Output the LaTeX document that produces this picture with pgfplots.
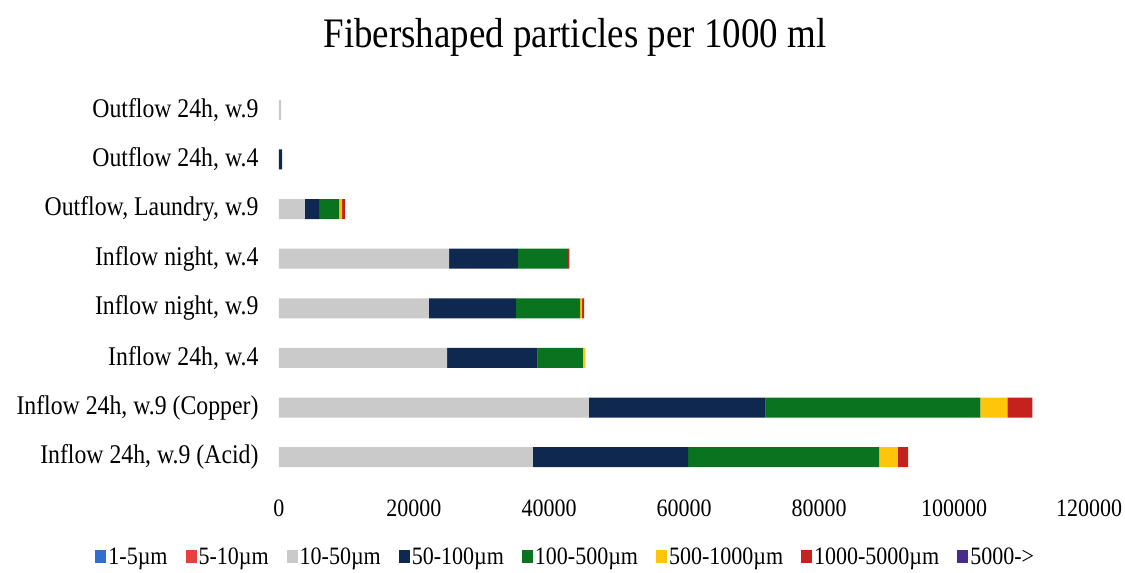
\documentclass[border=0pt]{standalone}
\usepackage{fontspec}
\setmainfont{Liberation Serif}[FakeStretch=0.88]
\usepackage{pgfplots}
\pgfplotsset{compat=1.18}
\definecolor{cBlue}{HTML}{2F6FD0}
\definecolor{cRedA}{HTML}{E8403C}
\definecolor{cGray}{HTML}{CACACA}
\definecolor{cNavy}{HTML}{0F2850}
\definecolor{cGreen}{HTML}{0A7320}
\definecolor{cYellow}{HTML}{FFC50A}
\definecolor{cRedB}{HTML}{C4221C}
\definecolor{cPurple}{HTML}{4A2A8A}
\begin{document}
\begin{tikzpicture}
\path[use as bounding box] (0,0) rectangle (1125pt,573pt);
\node[font=\fontsize{42}{48}\selectfont] at (575pt,536pt) {Fibershaped particles per 1000 ml};
\begin{axis}[
  at={(279pt,91pt)}, anchor=south west,
  scale only axis, width=810pt, height=397pt,
  xbar stacked, bar width=20pt,
  xmin=0, xmax=120000, ymin=-0.5, ymax=7.5,
  axis line style={draw=none},
  major tick length=0pt,
  xtick={0,20000,...,120000},
  scaled x ticks=false,
  xticklabel style={font=\fontsize{25}{30}\selectfont, yshift=-14pt},
  xticklabel={\pgfmathprintnumber[fixed,1000 sep={},assume math mode=true]{\tick}},
  ytick={0,...,7},
  yticklabels={{Inflow 24h, w.9 (Acid)},{Inflow 24h, w.9 (Copper)},{Inflow 24h, w.4},{Inflow night, w.9},{Inflow night, w.4},{Outflow, Laundry, w.9},{Outflow 24h, w.4},{Outflow 24h, w.9}},
  yticklabel style={font=\fontsize{27}{32}\selectfont, xshift=-17pt},
  legend columns=8,
  legend style={at={(0.354,-0.19)}, anchor=center, draw=none, font=\fontsize{25}{30}\selectfont,
    /tikz/every even column/.append style={column sep=16pt}},
  legend image code/.code={\fill[#1] (0pt,-6pt) rectangle (11pt,7pt);},
  every axis plot/.append style={draw=none},
]
\addplot[fill=cBlue] coordinates {(0,0) (0,1) (0,2) (0,3) (0,4) (0,5) (0,6) (0,7)};
\addplot[fill=cRedA] coordinates {(0,0) (0,1) (0,2) (0,3) (0,4) (0,5) (0,6) (0,7)};
\addplot[fill=cGray] coordinates {(37600,0) (45900,1) (24900,2) (22200,3) (25200,4) (3850,5) (0,6) (300,7)};
\addplot[fill=cNavy] coordinates {(23000,0) (26200,1) (13400,2) (12900,3) (10200,4) (2100,5) (450,6) (0,7)};
\addplot[fill=cGreen] coordinates {(28300,0) (31800,1) (6700,2) (9500,3) (7400,4) (2950,5) (0,6) (0,7)};
\addplot[fill=cYellow] coordinates {(2800,0) (4000,1) (400,2) (300,3) (0,4) (450,5) (0,6) (0,7)};
\addplot[fill=cRedB] coordinates {(1500,0) (3700,1) (0,2) (300,3) (200,4) (450,5) (0,6) (0,7)};
\addplot[fill=cPurple] coordinates {(0,0) (0,1) (0,2) (0,3) (0,4) (0,5) (0,6) (0,7)};
\legend{1-5µm,5-10µm,10-50µm,50-100µm,100-500µm,500-1000µm,1000-5000µm,5000->}
\end{axis}
\end{tikzpicture}
\end{document}
